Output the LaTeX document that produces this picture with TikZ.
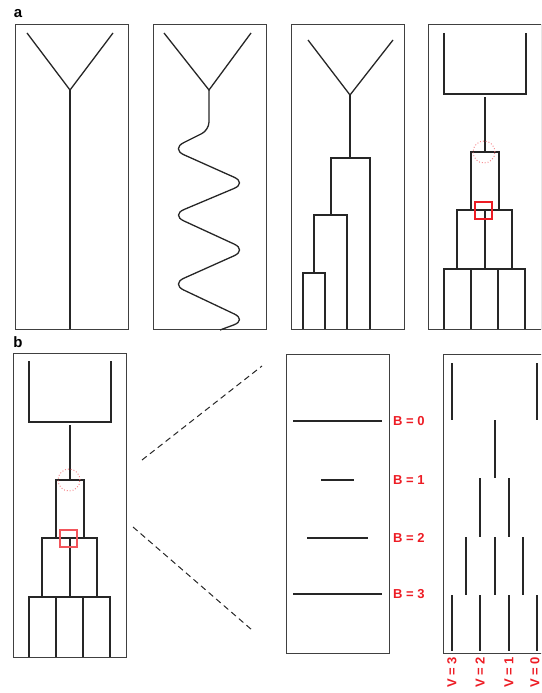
\documentclass[tikz,border=0pt]{standalone}
\usepackage{fontspec}
\setmainfont{Liberation Sans}

\definecolor{figred}{RGB}{237,28,36}
\tikzset{
	panelbox/.style={draw=black!75, line width=1pt},
	branch/.style={draw=black!85, line width=1.3pt},
	redmark/.style={line width=1.5pt},
	zoomline/.style={draw=black!85, line width=1pt, dash pattern=on 6pt off 4pt},
	panellabel/.style={font=\fontsize{15}{17}\selectfont\bfseries, inner sep=0pt},
	statelabel/.style={text=figred, font=\fontsize{13}{15}\selectfont\bfseries, inner sep=0pt}
}

\begin{document}
\begin{tikzpicture}[x=1pt, y=-1pt]
		\useasboundingbox (0,0) rectangle (541,693);
		\clip (0,0) rectangle (541,693);
		% panel a
		\node [panellabel] (lbla) at (18,14) {a};
		\draw [panelbox] (15,25) rectangle (128,329);
		\draw [panelbox] (153,25) rectangle (266,329);
		\draw [panelbox] (291,25) rectangle (404,329);
		\draw [branch] (27,33) -- (70,90) -- (113,33);
		\draw [branch] (70,90) -- (70,329);
		\draw [branch] (164,33) -- (209,90) -- (251,33);
		\draw [branch, rounded corners=8pt] (209,90) -- (209,130) [rounded corners=14pt] -- (171,149) -- (247,183) -- (171,215) -- (247,250) -- (171,284) -- (247,320) -- (220,330);
		\draw [branch] (308,40) -- (350,95) -- (393,40);
		\draw [branch] (350,95) -- (350,158);
		\draw [branch] (331,215) -- (331,158) -- (370,158) -- (370,329);
		\draw [branch] (314,273) -- (314,215) -- (347,215) -- (347,329);
		\draw [branch] (303,329) -- (303,273) -- (325,273) -- (325,329);
		% last tree of a, drawn again as the first of b
		\foreach \dx/\dy/\tint in {0/0/100, -415/328/75} {
			\begin{scope}[shift={(\dx,\dy)}]
				\draw [panelbox] (428,25) rectangle (541,329);
				\draw [branch] (444,33) -- (444,94) -- (526,94) -- (526,33);
				\draw [branch] (485,97) -- (485,152);
				\draw [branch] (471,210) -- (471,152) -- (499,152) -- (499,210);
				\draw [branch] (457,269) -- (457,210) -- (512,210) -- (512,269);
				\draw [branch] (485,210) -- (485,269);
				\draw [branch] (444,329) -- (444,269) -- (525,269) -- (525,329);
				\draw [branch] (471,269) -- (471,329);
				\draw [branch] (498,269) -- (498,329);
				\draw [line width=0.9pt, dotted, draw=figred!60] (484,152) circle (11pt);
				\draw [redmark, draw=figred!\tint] (475,202) rectangle (492,219);
			\end{scope}
		}
		% panel b
		\node [panellabel] (lblb) at (18,342) {b};
		\coordinate (zoomtopA) at (142,460);
		\coordinate (zoomtopB) at (262,366);
		\coordinate (zoombotA) at (133,527);
		\coordinate (zoombotB) at (252,630);
		\draw [zoomline] (zoomtopA) -- (zoomtopB);
		\draw [zoomline] (zoombotA) -- (zoombotB);
		\draw [panelbox] (286,354) rectangle (389,653);
		\draw [branch] (293,421) -- (382,421);
		\draw [branch] (321,480) -- (354,480);
		\draw [branch] (307,538) -- (368,538);
		\draw [branch] (293,594) -- (382,594);
		\node [statelabel, anchor=west] (bzero) at (393,421) {B = 0};
		\node [statelabel, anchor=west] (bone) at (393,480) {B = 1};
		\node [statelabel, anchor=west] (btwo) at (393,538) {B = 2};
		\node [statelabel, anchor=west] (bthree) at (393,594) {B = 3};
		\draw [panelbox] (443,354) rectangle (560,653);
		\foreach \x in {452,537} \draw [branch] (\x,363) -- (\x,420);
		\draw [branch] (495,420) -- (495,478);
		\foreach \x in {480,509} \draw [branch] (\x,478) -- (\x,537);
		\foreach \x in {466,495,523} \draw [branch] (\x,537) -- (\x,595);
		\foreach \x/\lx/\v in {452/452/3,480/480/2,509/509/1,537/535/0} {
			\draw [branch] (\x,595) -- (\x,651);
			\node [statelabel, rotate=90, anchor=east] (v\v) at (\lx,657) {V = \v};
		}
	\end{tikzpicture}
\end{document}
